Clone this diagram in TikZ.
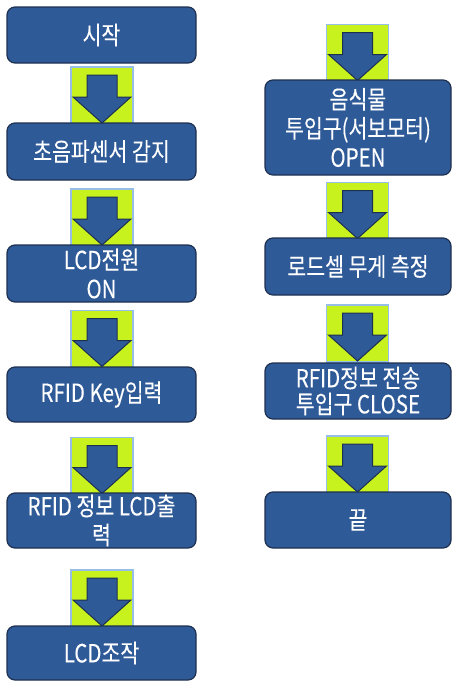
\documentclass[tikz,border=0pt]{standalone}
\usepackage{fontspec}
\newfontfamily\kr{Noto Sans CJK KR}[FakeStretch=0.82,FakeBold=0.15]
\definecolor{boxblue}{RGB}{47,90,152}
\definecolor{boxline}{RGB}{30,48,80}
\definecolor{lime}{RGB}{200,242,30}
\definecolor{glow}{RGB}{150,190,230}
\tikzset{
  box/.style={draw=boxline, fill=boxblue, line width=1.2pt, rounded corners=8pt,
    text=white, align=center, inner sep=0pt, outer sep=0pt,
    font=\kr\fontsize{25}{29}\selectfont},
  lbox/.style={box, minimum width=189pt},
  rbox/.style={box, minimum width=186pt},
  gsq/.style={fill=lime, draw=glow, line width=1.5pt, minimum width=62pt,
    minimum height=57pt, inner sep=0pt, outer sep=0pt},
  arrowshape/.style={fill=boxblue, draw=boxline, line width=1pt, line join=miter}
}
\begin{document}
\begin{tikzpicture}[x=1pt,y=-1pt]
\useasboundingbox (0,0) rectangle (452,681);
% green squares (arrow backgrounds)
\node[gsq] (a1) at (102,95.5) {};
\node[gsq] (a2) at (102,217.5) {};
\node[gsq] (a3) at (102,339) {};
\node[gsq] (a4) at (102,466) {};
\node[gsq] (a5) at (102,598.5) {};
\node[gsq] (b1) at (357.5,53) {};
\node[gsq] (b2) at (357.5,211) {};
\node[gsq] (b3) at (357.5,333.5) {};
\node[gsq] (b4) at (357.5,464.5) {};
\foreach \n in {a1,a2,a3,a4,a5,b1,b2,b3,b4}
  \draw[arrowshape, shift={(\n.north west)}]
    (16,8) -- (46,8) -- (46,30) -- (60,30) -- (31,56) -- (2,30) -- (16,30) -- cycle;
% left column
\node[lbox, minimum height=56pt] (l1) at (101.5,35) {시작};
\node[lbox, minimum height=57pt] (l2) at (101.5,151.5) {초음파센서 감지};
\node[lbox, minimum height=57pt] (l3) at (101.5,273.5) {LCD전원\\ON};
\node[lbox, minimum height=55pt] (l4) at (101.5,394.5) {RFID Key입력};
\node[lbox, minimum height=55pt] (l5) at (101.5,520.5) {RFID 정보 LCD출\\력};
\node[lbox, minimum height=54pt] (l6) at (101.5,653) {LCD조작};
% right column
\node[rbox, minimum height=95pt] (r1) at (358,127.5) {음식물\\투입구(서보모터)\\OPEN};
\node[rbox, minimum height=57pt] (r2) at (358,266.5) {로드셀 무게 측정};
\node[rbox, minimum height=56pt, font=\kr\fontsize{25}{26}\selectfont] (r3) at (358,391) {RFID정보 전송\\투입구 CLOSE};
\node[rbox, minimum height=56pt] (r4) at (358,520) {끝};
\end{tikzpicture}
\end{document}
